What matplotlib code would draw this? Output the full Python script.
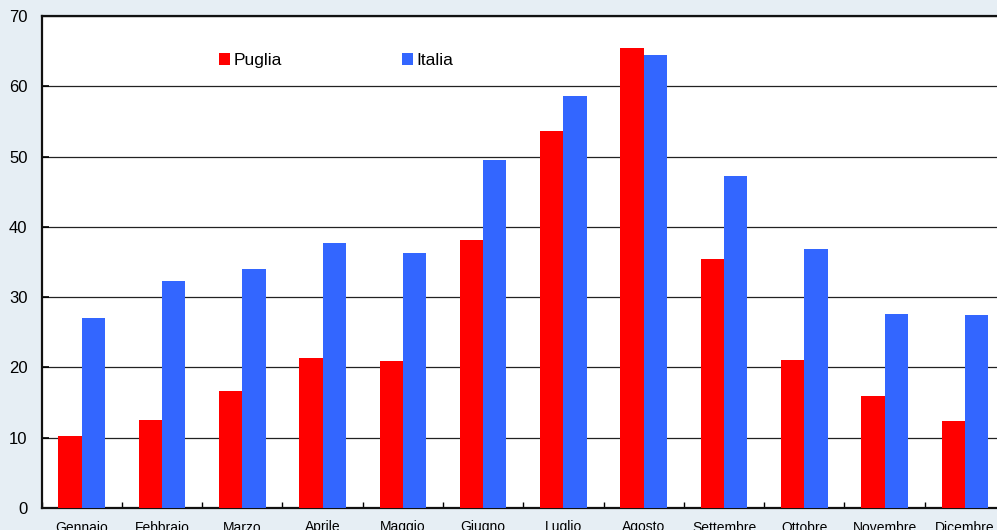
import numpy as np
import matplotlib.pyplot as plt

mesi = ['Gennaio', 'Febbraio', 'Marzo', 'Aprile', 'Maggio', 'Giugno',
        'Luglio', 'Agosto', 'Settembre', 'Ottobre', 'Novembre', 'Dicembre']
puglia = [10.2, 12.5, 16.6, 21.3, 20.9, 38.1, 53.6, 65.4, 35.4, 21.0, 15.9, 12.4]
italia = [27.0, 32.3, 34.0, 37.7, 36.3, 49.5, 58.6, 64.4, 47.2, 36.8, 27.6, 27.5]

plt.rcParams['font.family'] = ['Liberation Sans', 'DejaVu Sans']

fig = plt.figure(figsize=(9.97, 5.30), dpi=100, facecolor='#e6eef4')
# axes run past the right edge of the picture, as in the original
ax = fig.add_axes([41.5 / 997, 22 / 530, 963.5 / 997, 492 / 530])
ax.set_facecolor('white')

x = np.arange(len(mesi))
w = 0.29
b1 = ax.bar(x - w / 2, puglia, w, color='#ff0000', label='Puglia', zorder=3)
b2 = ax.bar(x + w / 2, italia, w, color='#3366ff', label='Italia', zorder=3)

ax.set_xlim(-0.5, len(mesi) - 0.5)
ax.set_ylim(0, 70)
ax.set_yticks(range(0, 71, 10))
ax.tick_params(axis='y', labelsize=12, length=5, direction='in', width=1.2, pad=10)
ax.yaxis.grid(True, color='#222222', linewidth=0.9, zorder=1)

ax.set_xticks(x)
ax.set_xticklabels(mesi, fontsize=10)
ax.set_xticks(np.arange(len(mesi) + 1) - 0.5, minor=True)
ax.tick_params(axis='x', which='major', length=0, pad=9)
ax.tick_params(axis='x', which='minor', length=4, direction='in', width=1)

for s in ['left', 'bottom', 'top']:
    ax.spines[s].set_linewidth(1.6)
    ax.spines[s].set_color('#111111')
ax.spines['right'].set_visible(False)

ax.legend(loc='center left', bbox_to_anchor=(0.168, 0.909), ncol=2, frameon=False,
          fontsize=12.5, handlelength=0.65, handleheight=0.65, handletextpad=0.2,
          columnspacing=6.9)

fig.savefig('out.png', dpi=100, facecolor=fig.get_facecolor())
